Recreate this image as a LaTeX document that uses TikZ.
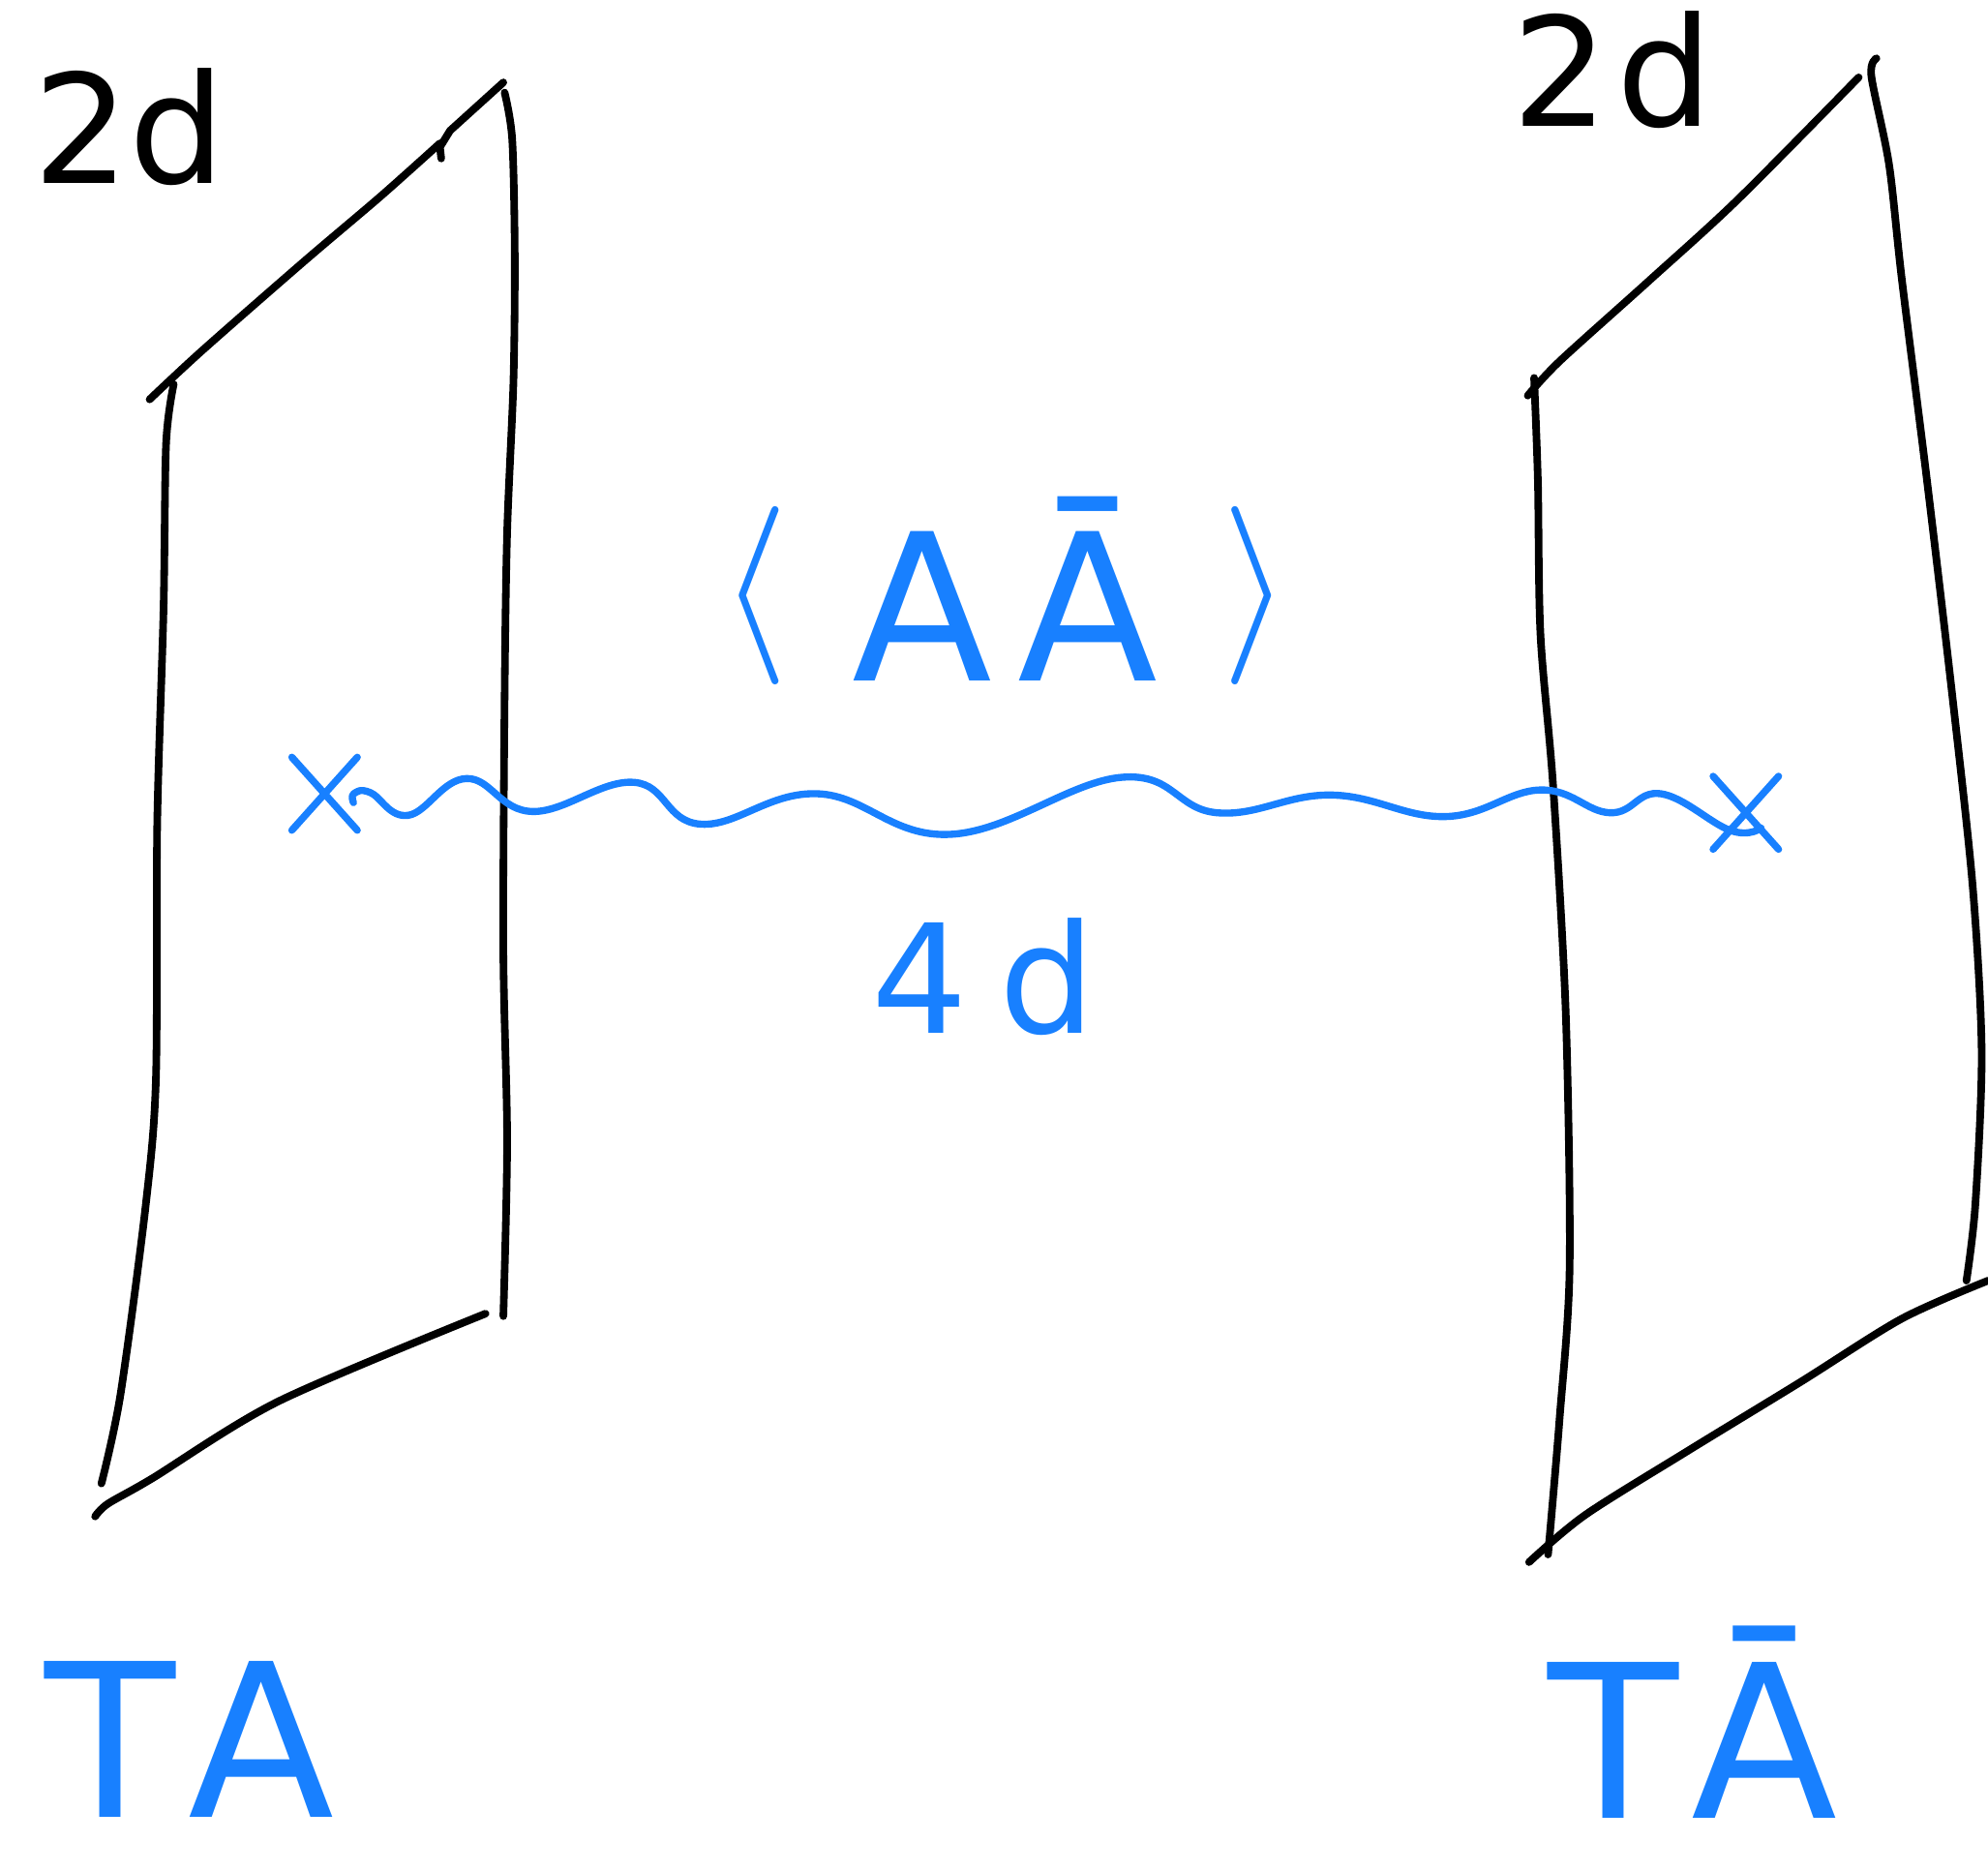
\RequirePackage{fix-cm}
\documentclass[tikz,border=0pt]{standalone}
\usepackage{fontspec}
\setmainfont{DejaVu Sans}
\usetikzlibrary{shapes.misc,calc}
\definecolor{inkblue}{RGB}{24,128,255}
\tikzset{
  plane/.style={draw=black,line width=1.7pt,line cap=round,line join=round},
  bluetxt/.style={text=inkblue,inner sep=0pt},
  blacktxt/.style={text=black,inner sep=0pt},
  xmark/.style={cross out,draw=inkblue,line width=1.6pt,line cap=round,minimum width=4.6mm,minimum height=5.2mm,inner sep=0pt},
  wave/.style={draw=inkblue,line width=1.6pt,line cap=round,line join=round}
}
\begin{document}
\begin{tikzpicture}[x=0.1mm,y=-0.1mm]
\useasboundingbox (0,0) rectangle (1568,1476);
% left plane
\draw[plane] plot[smooth,tension=0.5] coordinates {(118,315) (160,276) (240,206) (300,155) (347,113)};
\draw[plane] (348,125) -- (347,116) -- (355,103) -- (397,65);
\draw[plane] plot[smooth,tension=0.5] coordinates {(398,73) (404,110) (406,200) (405,300) (400,420) (398,550) (397,750) (400,900) (397,1038)};
\draw[plane] plot[smooth,tension=0.5] coordinates {(137,303) (131,350) (129,480) (124,650) (123,850) (115,950) (95,1100) (80,1170)};
\draw[plane] plot[smooth,tension=0.5] coordinates {(75,1196) (85,1186) (120,1166) (220,1105) (383,1036)};
% right plane
\draw[plane] plot[smooth,tension=0.5] coordinates {(1205,312) (1230,285) (1300,222) (1370,158) (1466,61)};
\draw[plane] plot[smooth,tension=0.5] coordinates {(1210,298) (1213,380) (1215,500) (1225,620) (1235,800) (1238,1000) (1230,1120) (1221,1226)};
\draw[plane] plot[smooth,tension=0.5] coordinates {(1480,46) (1476,60) (1490,130) (1500,220) (1520,380) (1540,550) (1556,700) (1563,830) (1558,950) (1551,1010)};
\draw[plane] plot[smooth,tension=0.5] coordinates {(1206,1232) (1250,1195) (1330,1145) (1420,1090) (1500,1040) (1568,1010)};
% labels
\node[blacktxt,font=\fontsize{34}{40}\selectfont] (l2d) at (102,100) {2d};
\node[blacktxt,font=\fontsize{34}{40}\selectfont] (r2d) at (1272,55) {2\hspace{0.6mm}d};
\node[bluetxt,font=\fontsize{46}{56}\selectfont,anchor=base] (corr) at (793,537)
  {{\fontsize{40}{48}\selectfont\raisebox{3.2mm}{$\langle$}}\hspace{5mm}A\hspace{2mm}\={A}\hspace{5mm}{\fontsize{40}{48}\selectfont\raisebox{3.2mm}{$\rangle$}}};
\node[bluetxt,font=\fontsize{34}{40}\selectfont] (fourd) at (776,770) {4\hspace{2.5mm}d};
\node[bluetxt,font=\fontsize{48}{58}\selectfont] (ta) at (150,1372) {T\hspace{1mm}A};
\node[bluetxt,font=\fontsize{48}{58}\selectfont] (tab) at (1335,1358) {T\hspace{1mm}\={A}};
% crosses and wave
\node[xmark] (xl) at (256,626) {};
\node[xmark] (xr) at (1377,641) {};
\draw[wave] plot[smooth,tension=0.7] coordinates {($(xl.east)+(-3,7)$) (279,626) (292,625) (322,643) (368,614) (420,640) (500,617) (553,650) (645,626) (750,658) (885,613) (960,641) (1050,627) (1140,644) (1215,623) (1270,641) (1310,626) (1365,655) ($(xr.center)+(12,12)$)};
\end{tikzpicture}
\end{document}
